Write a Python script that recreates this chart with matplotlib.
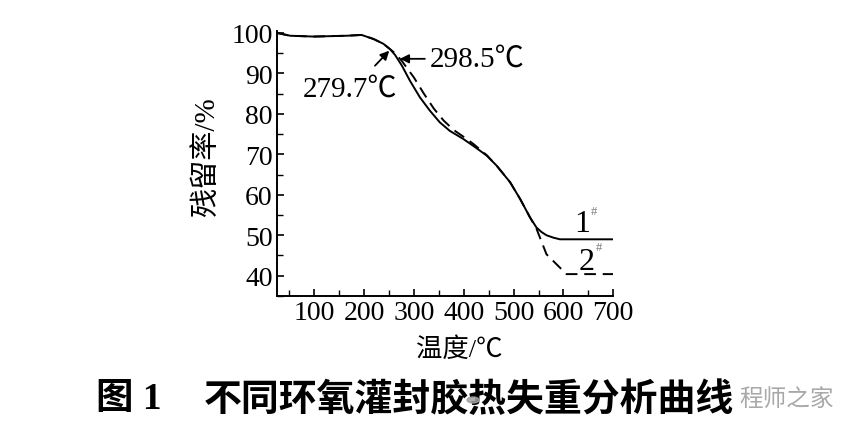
import matplotlib
matplotlib.use("Agg")
import matplotlib.pyplot as plt
from matplotlib.ticker import MultipleLocator

# Data
temp1 = [25, 52, 99, 165, 195, 219, 239, 252, 262, 276, 292, 312, 332, 352, 372, 399, 419, 446,
         466, 493, 513, 533, 546, 556, 566, 580, 593, 620, 700]
mass1 = [100.0, 99.3, 99.1, 99.3, 99.5, 98.5, 97.3, 96.0, 94.6, 91.9, 88.2, 84.1, 80.8, 77.9, 75.8,
         73.8, 72.1, 69.7, 67.2, 63.1, 59.0, 54.4, 51.9, 50.8, 50.0, 49.4, 49.0, 49.0, 49.0]

temp2 = [25, 52, 99, 165, 195, 219, 239, 252, 262, 275, 300, 320, 340, 360, 380, 400, 420, 446,
         466, 493, 513, 533, 546, 566, 606, 620, 700]
mass2 = [100.0, 99.3, 99.1, 99.3, 99.5, 98.5, 97.3, 96.0, 95.0, 93.2, 89.0, 85.0, 81.3, 78.3, 76.0,
         74.3, 72.5, 69.8, 67.2, 63.1, 59.0, 54.4, 51.6, 45.3, 40.4, 40.4, 40.4]

xticks = [100, 200, 300, 400, 500, 600, 700]
yticks = [40, 50, 60, 70, 80, 90, 100]

onset_labels = ['279.7℃', '298.5℃']
series_labels = ['1', '2']

SERIF = ['Liberation Serif', 'Noto Sans CJK SC']
CJK = ['Noto Sans CJK SC', 'DejaVu Sans']

W, H = 865, 431
fig = plt.figure(figsize=(W / 100, H / 100), dpi=100)
ax = fig.add_axes([0.320, 0.311, 0.389, 0.615])

ax.plot(temp1, mass1, color='black', lw=1.4, solid_capstyle='butt')
ax.plot(temp2, mass2, color='black', lw=1.4, ls=(0, (6, 3.5)))

ax.set_xlim(25, 700)
ax.set_ylim(35, 100.5)
ax.set_xticks(xticks)
ax.set_yticks(yticks)
ax.xaxis.set_minor_locator(MultipleLocator(50))
ax.yaxis.set_minor_locator(MultipleLocator(5))
ax.spines['top'].set_visible(False)
ax.spines['right'].set_visible(False)
for s in ('left', 'bottom'):
    ax.spines[s].set_linewidth(1.4)
ax.tick_params(which='major', direction='in', length=5, width=1.2, pad=3, labelsize=20)
ax.tick_params(which='minor', direction='in', length=4, width=1.0)
for lab in ax.get_xticklabels() + ax.get_yticklabels():
    lab.set_family(SERIF)


def fx(px):
    return px / W


def fy(py):
    return 1 - py / H


# axis labels
fig.text(fx(207), fy(157), '残留率/%', family=SERIF, fontsize=21, rotation=90,
         ha='center', va='center')
fig.text(fx(459), fy(350), '温度/℃', family=SERIF, fontsize=19, ha='center', va='center')

# onset annotations
arrow = dict(arrowstyle='-|>', color='black', lw=1.3, mutation_scale=13, shrinkA=0, shrinkB=0)
ax.annotate('', xy=(250.6, 95.6), xytext=(222, 91.9), arrowprops=arrow)
ax.annotate('', xy=(272, 93.6), xytext=(322, 93.6), arrowprops=arrow)
ax.text(78, 86.2, onset_labels[0], family=SERIF, fontsize=21, ha='left', va='center')
ax.text(332, 93.6, onset_labels[1], family=SERIF, fontsize=21, ha='left', va='center')

# series labels
ax.text(637, 51.0, series_labels[0], family=SERIF, fontsize=23, ha='center', va='baseline')
ax.text(647, 41.6, series_labels[1], family=SERIF, fontsize=23, ha='center', va='baseline')
ax.text(662, 55.9, '#', family=SERIF, fontsize=9, color='#777777', ha='center', va='center')
ax.text(671, 47.1, '#', family=SERIF, fontsize=9, color='#777777', ha='center', va='center')

# watermark (partly hidden by the caption in the reference)
fig.patches.append(plt.Circle((fx(473), fy(401)), 6 / W, transform=fig.transFigure,
                              color='#a0a0a0', alpha=0.85, zorder=6))
fig.text(fx(834), fy(399), '程师之家', color='#a8a8a8', fontsize=17,
         ha='right', va='center', family=CJK, zorder=0)

# caption
fig.text(fx(96), fy(400), '图 1', color='black', fontsize=27, fontweight='bold',
         ha='left', va='center', family=SERIF, zorder=5)
fig.text(fx(204), fy(400), '不同环氧灌封胶热失重分析曲线', color='black', fontsize=27.3,
         fontweight='bold', ha='left', va='center', family=CJK, zorder=5)

fig.savefig('out.png', dpi=100, facecolor='white')
